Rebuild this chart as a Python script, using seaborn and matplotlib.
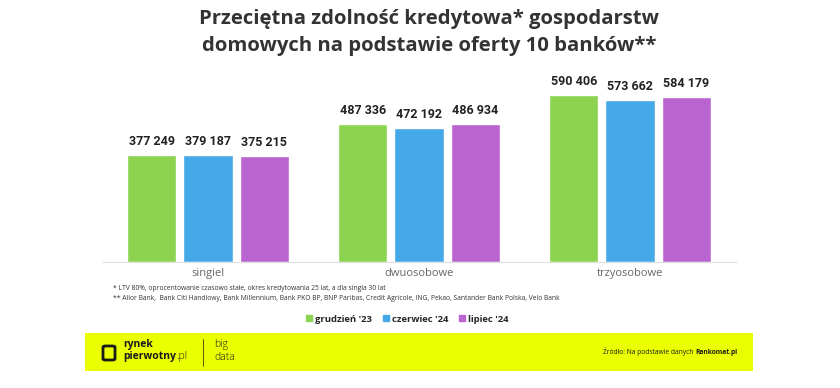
import pandas as pd
import matplotlib
matplotlib.use("Agg")
import matplotlib.pyplot as plt
from matplotlib.patches import Rectangle, FancyBboxPatch
from matplotlib.lines import Line2D
import seaborn as sns

# dane
kategorie = ["singiel", "dwuosobowe", "trzyosobowe"]
okresy = ["grudzień '23", "czerwiec '24", "lipiec '24"]
grudzien_23 = [377249, 487336, 590406]
czerwiec_24 = [379187, 472192, 573662]
lipiec_24 = [375215, 486934, 584179]
kolory = ["#8cd44f", "#45a8e8", "#b964cf"]

przypisy = [
    "* LTV 80%, oprocentowanie czasowo stałe, okres kredytowania 25 lat, a dla singla 30 lat",
    "** Alior Bank,  Bank Citi Handlowy, Bank Millennium, Bank PKO BP, BNP Paribas, Credit Agricole, ING, Pekao, Santander Bank Polska, Velo Bank",
]

df = pd.DataFrame({
    "kategoria": kategorie * 3,
    "okres": [o for o in okresy for _ in kategorie],
    "wartosc": grudzien_23 + czerwiec_24 + lipiec_24,
})

sns.set_theme(style="white")
plt.rcParams["font.family"] = ["Open Sans", "DejaVu Sans"]

W, H = 840, 388
fig = plt.figure(figsize=(W / 100, H / 100), dpi=100)
ax = fig.add_axes([102.5 / W, (H - 262) / H, 633 / W, 183.9 / H])

sns.barplot(data=df, x="kategoria", y="wartosc", hue="okres", order=kategorie,
            hue_order=okresy, palette=kolory, width=0.8, gap=0.12,
            saturation=1, ax=ax, legend=True)

ax.set_xlim(-0.5, 2.5)
ax.set_ylim(0, 650000)
ax.set_xlabel("")
ax.set_ylabel("")
ax.set_yticks([])
for s in ["top", "right", "left"]:
    ax.spines[s].set_visible(False)
ax.spines["bottom"].set_color("#e0e0e0")
ax.spines["bottom"].set_linewidth(0.8)
ax.tick_params(axis="x", length=0, pad=4, labelsize=8, labelcolor="#666666")

for cont in ax.containers:
    labels = [f"{v:,.0f}".replace(",", " ") for v in cont.datavalues]
    ax.bar_label(cont, labels=labels, padding=5, fontsize=9, fontweight="bold",
                 color="#222222", family=["Roboto", "DejaVu Sans"])

# legenda
handles = [Line2D([0], [0], marker="s", linestyle="", markersize=4.5,
                  markerfacecolor=c, markeredgecolor=c) for c in kolory]
ax.get_legend().remove()
fig.legend(handles, okresy, loc="center", bbox_to_anchor=(407 / W, 1 - 319 / H),
           ncol=3, frameon=False, handletextpad=0.3,
           columnspacing=1.0, handlelength=0.8,
           prop={"weight": "bold", "size": 6.8})

# tytuł
fig.text(429 / W, 1 - 19 / H, "Przeciętna zdolność kredytowa* gospodarstw",
         ha="center", va="center", fontsize=14.6, fontweight="bold", color="#333333")
fig.text(429 / W, 1 - 46 / H, "domowych na podstawie oferty 10 banków**",
         ha="center", va="center", fontsize=14.6, fontweight="bold", color="#333333")

# przypisy
fig.text(113 / W, 1 - 289 / H, przypisy[0], ha="left", va="center",
         fontsize=4.9, color="#333333")
fig.text(113 / W, 1 - 299 / H, przypisy[1], ha="left", va="center",
         fontsize=4.9, color="#333333")

# stopka
fig.patches.append(Rectangle((85 / W, 1 - 371 / H), 668 / W, 38 / H,
                             transform=fig.transFigure, facecolor="#eaff00",
                             edgecolor="none", zorder=-1))
fig.patches.append(FancyBboxPatch((103 / W, 1 - 360 / H), 12 / W, 14 / H,
                                  boxstyle="round,pad=0,rounding_size=0.003",
                                  transform=fig.transFigure, facecolor="none",
                                  edgecolor="#1a1a1a", linewidth=2.0, zorder=1))
fig.text(123 / W, 1 - 345 / H, "rynek", ha="left", va="center", fontsize=7.5,
         fontweight="bold", color="#1a1a1a")
t_pierw = fig.text(123 / W, 1 - 357 / H, "pierwotny", ha="left", va="center",
                   fontsize=7.5, fontweight="bold", color="#1a1a1a")
ax.annotate(".pl", xy=(1, 0.5), xycoords=t_pierw, ha="left", va="center",
            fontsize=7.5, fontweight="light", color="#1a1a1a",
            annotation_clip=False)
fig.lines.append(Line2D([203 / W, 203 / W], [1 - 366 / H, 1 - 339 / H],
                        transform=fig.transFigure, color="#1a1a1a", linewidth=0.5))
fig.text(214 / W, 1 - 345 / H, "big", ha="left", va="center", fontsize=7.5,
         fontweight="light", color="#1a1a1a")
fig.text(214 / W, 1 - 357 / H, "data", ha="left", va="center", fontsize=7.5,
         fontweight="light", color="#1a1a1a")
t_zrodlo = fig.text(603 / W, 1 - 352 / H, "Źródło: Na podstawie danych ", ha="left",
                    va="center", fontsize=4.8, color="#1a1a1a")
ax.annotate("Rankomat.pl", xy=(1, 0.5), xycoords=t_zrodlo, ha="left",
            va="center", fontsize=4.8, fontweight="bold", color="#1a1a1a",
            annotation_clip=False)

fig.savefig("out.png", dpi=100, facecolor="white")
